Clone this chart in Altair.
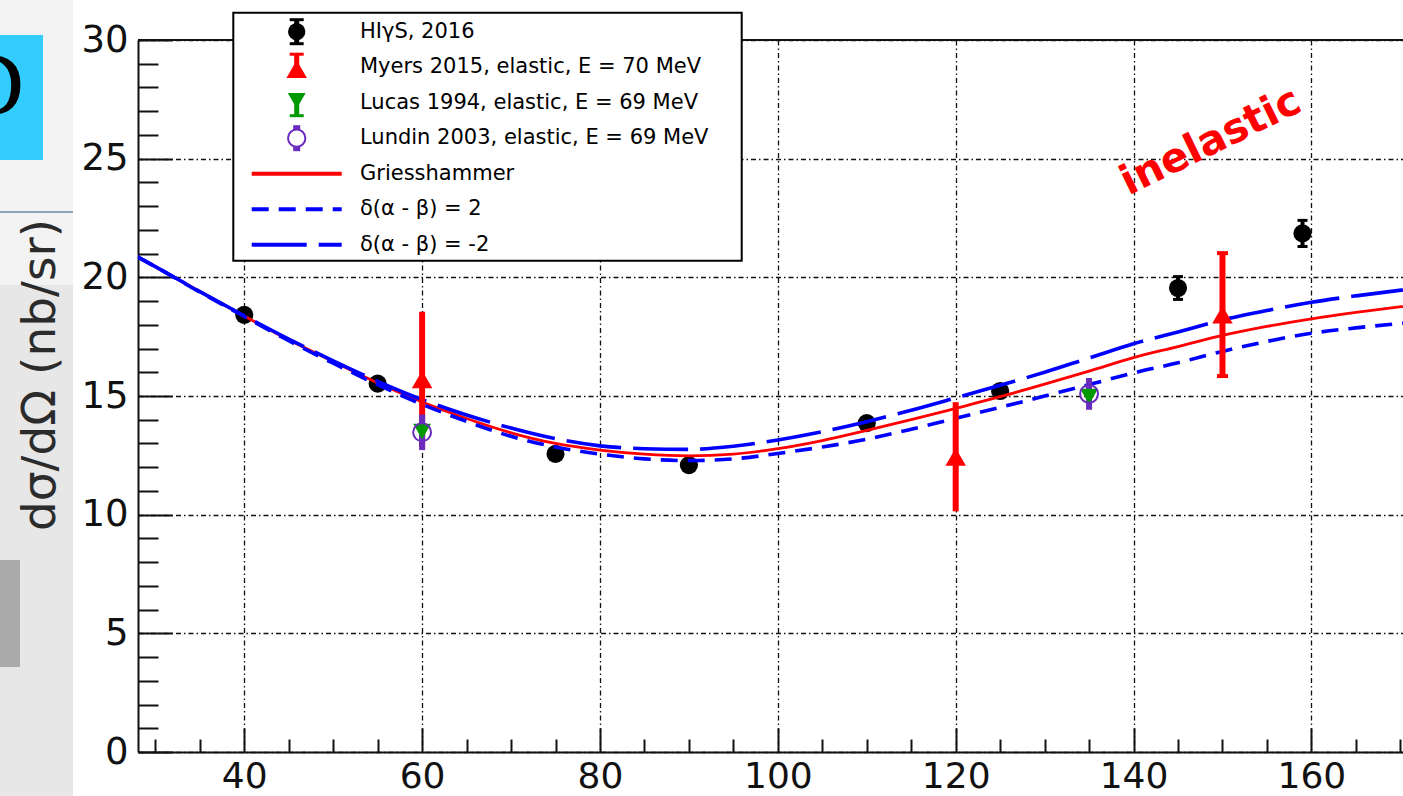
import altair as alt
import pandas as pd

# ---------------- values ----------------
higs_angle = [40, 55, 75, 90, 110, 125, 145, 159]
higs_xsec = [18.42, 15.52, 12.56, 12.09, 13.86, 15.21, 19.55, 21.85]
higs_err = [0.2, 0.2, 0.2, 0.2, 0.2, 0.2, 0.48, 0.55]

myers_angle = [60, 120, 150]
myers_xsec = [15.7, 12.44, 18.43]
myers_err = [2.85, 2.3, 2.59]
myers_cap = [0, 0, 1]

lucas_angle = [60, 135]
lucas_xsec = [13.5, 14.98]
lucas_err = [0.5, 0.5]

lundin_angle = [60, 135]
lundin_xsec = [13.47, 15.09]
lundin_err = [0.75, 0.67]

curve_angle = [28, 30, 35, 40, 45, 50, 55, 60, 65, 70, 75, 80, 85, 90, 95, 100,
               105, 110, 115, 120, 125, 130, 135, 140, 145, 150, 155, 160, 165, 170.3]
griesshammer = [20.86, 20.45, 19.40, 18.37, 17.37, 16.45, 15.55, 14.75, 14.05, 13.45,
                13.0, 12.72, 12.55, 12.48, 12.55, 12.78, 13.12, 13.55, 14.0, 14.48,
                14.97, 15.5, 16.05, 16.62, 17.08, 17.55, 17.93, 18.25, 18.52, 18.77]
delta_m2 = [20.86, 20.45, 19.40, 18.38, 17.40, 16.48, 15.62, 14.85, 14.2, 13.65,
            13.2, 12.9, 12.78, 12.75, 12.88, 13.15, 13.5, 13.92, 14.4, 14.92,
            15.45, 16.0, 16.6, 17.2, 17.7, 18.2, 18.6, 18.95, 19.22, 19.47]
delta_p2 = [20.86, 20.45, 19.38, 18.35, 17.33, 16.38, 15.48, 14.65, 13.93, 13.3,
            12.85, 12.55, 12.35, 12.28, 12.35, 12.58, 12.85, 13.18, 13.6, 14.06,
            14.52, 15.0, 15.48, 15.97, 16.4, 16.88, 17.3, 17.64, 17.87, 18.07]

x_major_ticks = [40, 60, 80, 100, 120, 140, 160]
x_minor_ticks = [30, 35, 45, 50, 55, 65, 70, 75, 85, 90, 95, 105, 110, 115,
                 125, 130, 135, 145, 150, 155, 165, 170]
y_major_ticks = [0, 5, 10, 15, 20, 25, 30]
y_minor_ticks = [v for v in range(31) if v % 5]

legend_labels = ["HIγS, 2016", "Myers 2015, elastic, E = 70 MeV",
                 "Lucas 1994, elastic, E = 69 MeV", "Lundin 2003, elastic, E = 69 MeV",
                 "Griesshammer", "δ(α - β) = 2", "δ(α - β) = -2"]

# ---------------- styling ----------------
W, H = 1265, 712
BLACK = "#000000"
RED = "#ff0000"
GREEN = "#009a00"
PURPLE = "#6a2bbf"
BLUE = "#0000ff"
AX = "#111111"
GRID_DASH = [5, 3, 1.5, 3]
SHORT_DASH = [17, 10]
LONG_DASH = [55, 12]

xs = alt.Scale(domain=[28.05, 170.3], nice=False, zero=False)
ys = alt.Scale(domain=[0, 30], nice=False, zero=False)

one = pd.DataFrame({"k": [0]})
frame_df = pd.DataFrame({"angle": [28.05, 170.3], "xsec": [0, 30]})


def axis_layer(xaxis, yaxis):
    return alt.Chart(frame_df).mark_point(opacity=0).encode(
        x=alt.X("angle:Q", scale=xs, axis=xaxis),
        y=alt.Y("xsec:Q", scale=ys, axis=yaxis),
    )


def rect(x, x2, y, y2, **kw):
    return alt.Chart(one).mark_rect(**kw).encode(
        x=alt.value(x), x2=alt.value(x2), y=alt.value(y), y2=alt.value(y2))


def rule(x, x2, y, y2, **kw):
    return alt.Chart(one).mark_rule(**kw).encode(
        x=alt.value(x), x2=alt.value(x2), y=alt.value(y), y2=alt.value(y2))


def sym(x, y, **kw):
    return alt.Chart(one).mark_point(opacity=1, **kw).encode(
        x=alt.value(x), y=alt.value(y))


def text(x, y, s, **kw):
    return alt.Chart(one).mark_text(**kw).encode(
        x=alt.value(x), y=alt.value(y), text=alt.value(s))


layers = []

# ---- slide background on the left ----
layers += [
    rect(-138, -65, -40, 245, color="#f3f3f3"),
    rect(-138, -65, 245, 760, color="#e7e7e7"),
    rule(-138, -65, 172, 172, color="#8fa2bb", strokeWidth=2),
    rect(-138, -95, -5, 120, color="#33ccff"),
    text(-114, 75, "D", font="Liberation Serif", fontSize=90, color=BLACK,
         align="right", baseline="alphabetic"),
    rect(-138, -118, 520, 627, color="#aaaaaa"),
    text(-97, 335, "dσ/dΩ (nb/sr)", font="DejaVu Sans", fontSize=47, color="#2b2b2b",
         angle=270, align="center", baseline="middle"),
]

# ---- axes ----
x_lab = alt.Axis(orient="bottom", values=x_major_ticks, ticks=False, domain=True,
                 domainColor=AX, domainWidth=2, labelFont="DejaVu Sans", labelFontSize=36,
                 labelColor=AX, labelPadding=7, labelFlush=False, labelOverlap=False,
                 grid=True, gridColor=AX, gridDash=GRID_DASH, gridWidth=1.3, title=None)
y_lab = alt.Axis(orient="left", values=y_major_ticks, ticks=False, domain=True,
                 domainColor=AX, domainWidth=2, labelFont="DejaVu Sans", labelFontSize=37,
                 labelColor=AX, labelPadding=10, labelFlush=False, labelOverlap=False,
                 grid=True, gridColor=AX, gridDash=GRID_DASH, gridWidth=1.3, title=None)


def tick_axis(orient, offset, values, size):
    return alt.Axis(orient=orient, offset=offset, values=values, ticks=True, tickSize=size,
                    tickWidth=2, tickColor=AX, labels=False, domain=False, grid=False,
                    title=None)


layers += [
    axis_layer(x_lab, None),
    axis_layer(None, y_lab),
    axis_layer(tick_axis("top", -H, x_major_ticks, 24), None),
    axis_layer(tick_axis("top", -H, x_minor_ticks, 13), None),
    axis_layer(None, tick_axis("right", -W, y_major_ticks, 34)),
    axis_layer(None, tick_axis("right", -W, y_minor_ticks, 20)),
]

# ---- data ----
higs = pd.DataFrame({"angle": higs_angle, "xsec": higs_xsec, "err": higs_err})
myers = pd.DataFrame({"angle": myers_angle, "xsec": myers_xsec, "err": myers_err, "cap": myers_cap})
lucas = pd.DataFrame({"angle": lucas_angle, "xsec": lucas_xsec, "err": lucas_err})
lundin = pd.DataFrame({"angle": lundin_angle, "xsec": lundin_xsec, "err": lundin_err})
curves = pd.DataFrame({"angle": curve_angle, "gries": griesshammer,
                       "dp2": delta_p2, "dm2": delta_m2})

X = alt.X("angle:Q", scale=xs, axis=None)


def err_bars(df, color, width):
    return alt.Chart(df).transform_calculate(
        lo="datum.xsec - datum.err", hi="datum.xsec + datum.err"
    ).mark_rule(color=color, strokeWidth=width).encode(
        x=X, y=alt.Y("lo:Q", scale=ys, axis=None), y2="hi:Q")


def err_caps(df, color, size, thick, flt=None):
    c = alt.Chart(df)
    if flt is not None:
        c = c.transform_filter(flt)
    return c.transform_calculate(
        lo="datum.xsec - datum.err", hi="datum.xsec + datum.err"
    ).transform_fold(["lo", "hi"], as_=["end", "val"]).mark_tick(
        orient="horizontal", size=size, thickness=thick, color=color, opacity=1
    ).encode(x=X, y=alt.Y("val:Q", scale=ys, axis=None))


def points(df, **kw):
    return alt.Chart(df).mark_point(opacity=1, **kw).encode(
        x=X, y=alt.Y("xsec:Q", scale=ys, axis=None))


def curve(field, color, width, dash=None):
    kw = dict(color=color, strokeWidth=width, clip=True, interpolate="monotone")
    if dash is not None:
        kw["strokeDash"] = dash
    return alt.Chart(curves).mark_line(**kw).encode(
        x=X, y=alt.Y(f"{field}:Q", scale=ys, axis=None))


layers += [
    err_bars(higs, BLACK, 4),
    err_caps(higs, BLACK, 10, 3),
    points(higs, shape="circle", filled=True, size=330, color=BLACK),
    curve("gries", RED, 2.8),
    curve("dp2", BLUE, 3.6, SHORT_DASH),
    curve("dm2", BLUE, 3.6, LONG_DASH),
    err_bars(myers, RED, 6),
    err_caps(myers, RED, 11, 4, "datum.cap == 1"),
    points(myers, shape="triangle-up", filled=True, size=420, color=RED),
    err_bars(lucas, GREEN, 5),
    err_bars(lundin, PURPLE, 6),
    points(lucas, shape="triangle-down", filled=True, size=320, color=GREEN),
    points(lundin, shape="circle", filled=False, size=320, color=PURPLE, strokeWidth=2),
]

# ---- top frame line ----
layers.append(rule(0, W, 0, 0, color=AX, strokeWidth=2))

# ---- inelastic annotation ----
layers.append(
    alt.Chart(pd.DataFrame({"angle": [149.3], "xsec": [25.24]})).mark_text(
        text="inelastic", font="DejaVu Sans", fontWeight="bold", fontSize=41, color=RED,
        angle=334, align="center", baseline="alphabetic"
    ).encode(x=X, y=alt.Y("xsec:Q", scale=ys, axis=None))
)

# ---- legend ----
LX0, LX1, LY0, LY1 = 95.3, 603.7, -27.3, 220.7
SX = 158.7
LINE0, LINE1 = 113.7, 203.7
TX = 222
rows = [-8.3 + 35.5 * i for i in range(7)]

layers.append(rect(LX0, LX1, LY0, LY1, fill="white", stroke=BLACK, strokeWidth=2))
r = rows[0]
layers += [
    rule(SX, SX, r - 12, r + 12, color=BLACK, strokeWidth=5),
    rule(SX - 7, SX + 7, r - 12, r - 12, color=BLACK, strokeWidth=3),
    rule(SX - 7, SX + 7, r + 12, r + 12, color=BLACK, strokeWidth=3),
    sym(SX, r, shape="circle", filled=True, size=300, color=BLACK),
]
r = rows[1]
layers += [
    rule(SX, SX, r - 13, r, color=RED, strokeWidth=5),
    rule(SX - 7, SX + 7, r - 13, r - 13, color=RED, strokeWidth=3),
    sym(SX, r + 2, shape="triangle-up", filled=True, size=420, color=RED),
]
r = rows[2]
layers += [
    rule(SX, SX, r, r + 13, color=GREEN, strokeWidth=5),
    rule(SX - 7, SX + 7, r + 13, r + 13, color=GREEN, strokeWidth=3),
    sym(SX, r - 2, shape="triangle-down", filled=True, size=320, color=GREEN),
]
r = rows[3]
layers += [
    rule(SX, SX, r - 13, r + 13, color=PURPLE, strokeWidth=7),
    sym(SX, r, shape="circle", filled=True, fill="white", stroke=PURPLE,
        strokeWidth=2, size=300),
]
layers += [
    rule(LINE0, LINE1, rows[4], rows[4], color=RED, strokeWidth=4),
    rule(LINE0, LINE1, rows[5], rows[5], color=BLUE, strokeWidth=4, strokeDash=SHORT_DASH),
    rule(LINE0, LINE1, rows[6], rows[6], color=BLUE, strokeWidth=4, strokeDash=LONG_DASH),
]
for lab, ry in zip(legend_labels, rows):
    layers.append(text(TX, ry, lab, font="DejaVu Sans", fontSize=21, color=BLACK,
                       align="left", baseline="middle"))

chart = alt.layer(*layers).resolve_axis(x="independent", y="independent").properties(
    width=W, height=H,
    autosize=alt.AutoSizeParams(type="none"),
    padding={"left": 138, "top": 40, "right": 0, "bottom": 44},
).configure_view(strokeWidth=0)

chart.save("out.html", embed_options={"renderer": "svg", "actions": False})
